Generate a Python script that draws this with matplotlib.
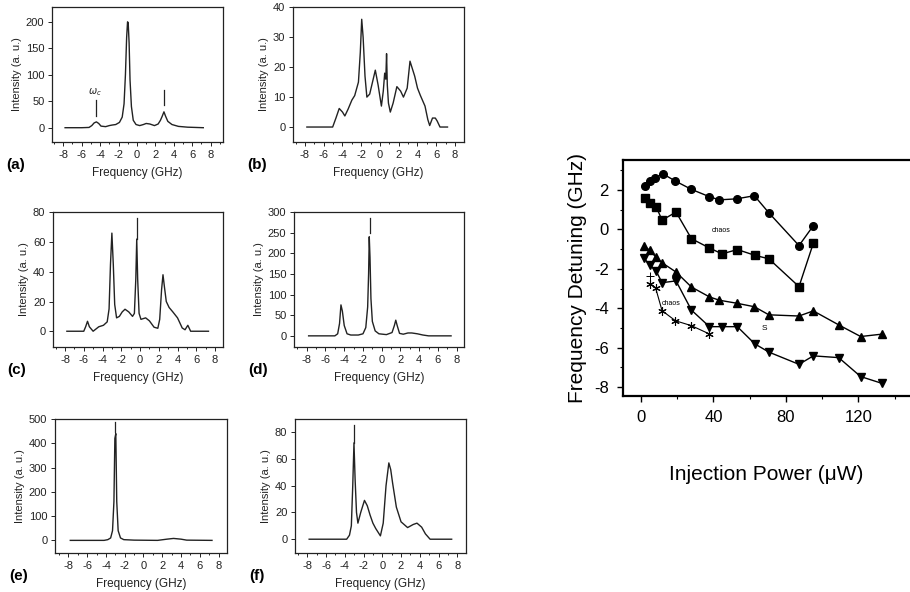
import matplotlib

matplotlib.use("Agg")
import matplotlib.pyplot as plt
from matplotlib.ticker import MultipleLocator

plt.rcParams["font.family"] = ["Liberation Sans", "DejaVu Sans"]
plt.rcParams["axes.unicode_minus"] = False

# ---- optical spectra, panels (a)-(f): frequency (GHz) / intensity (a. u.)
freq_a = [-7.8, -6.0, -5.2, -4.9, -4.65, -4.4, -4.15, -3.9, -3.4, -3.0, -2.7, -2.3, -1.9,
          -1.6, -1.4, -1.25, -1.12, -1.02, -0.95, -0.85, -0.75, -0.6, -0.4, -0.1, 0.3, 0.7,
          1.0, 1.4, 1.9, 2.3, 2.55, 2.75, 2.93, 3.1, 3.35, 3.8, 4.5, 5.5, 7.2]
int_a = [0, 0, 0.5, 4, 9, 11, 8, 3, 2, 4, 5, 6, 10, 20, 45, 100, 170, 200, 198, 160, 90, 40,
         14, 6, 4, 6, 8, 7, 4, 7, 14, 22, 30, 22, 12, 6, 2.5, 1, 0]

freq_b = [-7.8, -5.05, -4.7, -4.35, -4.0, -3.75, -3.4, -3.0, -2.7, -2.3, -2.1, -1.95, -1.8,
          -1.6, -1.4, -1.1, -0.8, -0.5, -0.2, 0.15, 0.35, 0.5, 0.62, 0.7, 0.78, 0.9, 1.1, 1.4,
          1.8, 2.2, 2.5, 2.9, 3.2, 3.7, 4.0, 4.3, 4.8, 5.1, 5.3, 5.6, 5.9, 6.1, 6.4, 7.2]
int_b = [0, 0, 3, 6.2, 5, 3.7, 6, 9, 10.5, 15, 25, 36, 30, 17, 10, 11, 15, 19, 14, 7, 12, 18,
         16, 24.5, 14, 8, 5, 8, 13.5, 12, 10, 13, 22, 17, 13, 10.6, 7, 2.5, 0.5, 3, 3, 2, 0, 0]

freq_c = [-7.8, -6.0, -5.8, -5.6, -5.4, -5.0, -4.4, -3.9, -3.5, -3.3, -3.15, -3.0, -2.85, -2.7,
          -2.5, -2.2, -1.9, -1.6, -1.2, -0.8, -0.6, -0.45, -0.35, -0.25, -0.1, 0.1, 0.6, 1.0,
          1.5, 1.9, 2.1, 2.3, 2.45, 2.6, 2.8, 3.1, 3.5, 4.0, 4.5, 4.8, 5.1, 5.4, 7.3]
int_c = [0, 0, 3, 6.7, 3, 0, 3, 4, 6.3, 15, 45, 66, 45, 18, 9, 10, 13, 14.8, 13, 10, 12, 35,
         62, 35, 12, 8, 9, 7, 2.7, 2, 8, 28, 38, 30, 20, 16, 13, 9, 2.2, 1, 4, 0, 0]

freq_d = [-7.8, -5.0, -4.7, -4.5, -4.35, -4.2, -4.0, -3.7, -3.3, -2.5, -2.0, -1.7, -1.5, -1.4,
          -1.33, -1.25, -1.15, -1.0, -0.7, -0.3, 0.5, 1.1, 1.35, 1.5, 1.65, 1.9, 2.3, 2.8, 3.2,
          3.8, 4.4, 5.0, 7.4]
int_d = [0, 0, 5, 30, 75, 60, 25, 5, 2, 2, 5, 20, 70, 150, 240, 190, 90, 35, 12, 5, 3, 8, 25,
         38, 25, 6, 4, 7, 7, 5, 2, 0, 0]

freq_e = [-7.8, -4.2, -3.8, -3.5, -3.3, -3.15, -3.05, -2.95, -2.85, -2.7, -2.45, -2.1, -1.0,
          1.5, 2.5, 3.2, 4.0, 4.6, 7.3]
int_e = [0, 0, 3, 10, 40, 160, 420, 440, 160, 40, 10, 3, 1, 0, 5, 8, 5, 1, 0]

freq_f = [-7.8, -3.8, -3.5, -3.3, -3.15, -3.02, -2.9, -2.75, -2.6, -2.3, -1.9, -1.6, -1.3,
          -1.0, -0.7, -0.2, 0.1, 0.4, 0.7, 0.9, 1.1, 1.5, 2.0, 2.7, 3.3, 3.7, 4.2, 4.6, 5.1, 7.4]
int_f = [0, 0, 3, 10, 40, 72, 45, 20, 12, 20, 29, 25, 18, 12, 8, 2.5, 12, 40, 57, 52, 42, 24,
         13, 8.7, 11, 12, 9, 4, 0, 0]

# vertical marker lines above peaks: (freq, y from, y to)
marks_a = [(-4.4, 22, 52), (2.93, 42, 71)]
marks_c = [(-0.35, 62, 76)]
marks_d = [(-1.3, 250, 285)]
marks_e = [(-3.0, 445, 488)]
marks_f = [(-3.0, 72, 85)]

# ---- detuning map: injection power (uW) / frequency detuning (GHz)
p_circle = [2.4, 4.8, 7.9, 12.1, 19.1, 27.9, 37.8, 43.3, 52.8, 62.6, 70.5, 87.2, 95.1]
d_circle = [2.2, 2.45, 2.62, 2.82, 2.45, 2.03, 1.66, 1.5, 1.55, 1.71, 0.85, -0.82, 0.19]
p_square = [2.4, 5.1, 8.4, 11.7, 19.4, 27.9, 37.8, 44.8, 53.2, 62.8, 70.6, 87.2, 95.1]
d_square = [1.61, 1.33, 1.16, 0.47, 0.88, -0.47, -0.94, -1.24, -1.02, -1.31, -1.49, -2.9, -0.7]
p_up = [1.8, 4.8, 8.4, 11.7, 19.4, 27.9, 37.8, 43.3, 52.8, 62.6, 70.6, 87.2, 95.1, 109.1,
        121.2, 132.8]
d_up = [-0.85, -1.05, -1.41, -1.69, -2.16, -2.92, -3.42, -3.59, -3.74, -3.92, -4.33, -4.39,
        -4.13, -4.84, -5.43, -5.31]
p_down = [1.8, 4.8, 8.4, 11.7, 19.4, 27.9, 37.8, 44.8, 53.2, 62.8, 70.6, 87.2, 95.1, 109.1,
          121.2, 132.8]
d_down = [-1.47, -1.78, -2.1, -2.7, -2.61, -4.09, -4.93, -4.93, -4.93, -5.8, -6.22, -6.84,
          -6.41, -6.5, -7.46, -7.8]
p_star = [5.1, 8.1, 11.7, 19.1, 27.9, 37.8]
d_star = [-2.75, -2.95, -4.12, -4.63, -4.88, -5.3]
p_plus = [4.8]
d_plus = [-2.36]

W, H = 910, 592
fig = plt.figure(figsize=(W / 100, H / 100), dpi=100)


def px_axes(left, top, right, bottom):
    return fig.add_axes([left / W, 1 - bottom / H, (right - left) / W, (bottom - top) / H])


panels = [
    ("(a)", (52, 7, 223, 142), freq_a, int_a, marks_a, (-9.22, 9.34), (-27, 228), 50),
    ("(b)", (293, 7, 464, 142), freq_b, int_b, [], (-9.28, 8.96), (-5, 40.1), 10),
    ("(c)", (53, 212, 223, 347), freq_c, int_c, marks_c, (-9.28, 8.85), (-10.6, 80.2), 20),
    ("(d)", (294, 212, 464, 347), freq_d, int_d, marks_d, (-9.36, 8.78), (-27, 300), 50),
    ("(e)", (55, 419, 227, 553), freq_e, int_e, marks_e, (-9.43, 8.9), (-52, 500), 100),
    ("(f)", (295, 419, 466, 553), freq_f, int_f, marks_f, (-9.31, 8.93), (-10.3, 89.8), 20),
]

for tag, box, fx, iy, marks, xlim, ylim, ystep in panels:
    ax = px_axes(*box)
    ax.plot(fx, iy, color="#222222", lw=1.0)
    for mx, y0, y1 in marks:
        ax.plot([mx, mx], [y0, y1], color="#222222", lw=0.9)
    ax.set_xlim(*xlim)
    ax.set_ylim(*ylim)
    ax.xaxis.set_major_locator(MultipleLocator(2))
    ax.xaxis.set_minor_locator(MultipleLocator(1))
    ax.yaxis.set_major_locator(MultipleLocator(ystep))
    ax.tick_params(which="major", direction="out", length=3, width=0.7, labelsize=8, pad=2.5,
                   colors="#222222")
    ax.tick_params(which="minor", direction="out", length=1.5, width=0.6)
    for s in ax.spines.values():
        s.set_linewidth(0.9)
        s.set_color("#222222")
    ax.set_xlabel("Frequency (GHz)", fontsize=8.5, labelpad=5, color="#222222")
    ax.set_ylabel("Intensity (a. u.)", fontsize=8, labelpad=3, color="#222222")
    left, top, right, bottom = box
    fig.text((left - 46) / W, 1 - (bottom + 23) / H, tag, fontsize=11, fontweight="bold",
             va="center", ha="left")

# omega_c label in panel (a)
fig.axes[0].text(-4.55, 56, r"$\omega_c$", fontsize=7, ha="center", va="bottom",
                 color="#222222")

# ---- right panel
ax = fig.add_axes([622.7 / W, 1 - 395.7 / H, 1 - 622.7 / W, (395.7 - 160) / H])
kw = dict(color="black", lw=1.0, markersize=5.5)
ax.plot(p_circle, d_circle, marker="o", **kw)
ax.plot(p_square, d_square, marker="s", **kw)
ax.plot(p_up, d_up, marker="^", **kw)
ax.plot(p_down, d_down, marker="v", **kw)
ax.plot(p_star, d_star, marker=(6, 2, 0), color="black", lw=0.8, markersize=6, mew=0.8)
ax.plot(p_plus, d_plus, marker="+", ls="none", color="black", markersize=6, mew=0.7)
ax.text(44.5, -0.05, "chaos", fontsize=5, ha="center", va="center")
ax.text(16.5, -3.74, "chaos", fontsize=5, ha="center", va="center")
ax.text(68, -5.0, "S", fontsize=6, ha="center", va="center")
ax.set_xlim(-10, 148.4)
ax.set_ylim(-8.43, 3.52)
ax.xaxis.set_major_locator(MultipleLocator(40))
ax.xaxis.set_minor_locator(MultipleLocator(20))
ax.yaxis.set_major_locator(MultipleLocator(2))
ax.yaxis.set_minor_locator(MultipleLocator(1))
ax.tick_params(which="major", direction="out", length=4, width=1.0, labelsize=12, pad=6)
ax.tick_params(which="minor", direction="out", length=2.5, width=0.8)
for s in ax.spines.values():
    s.set_linewidth(1.6)
ax.spines["right"].set_visible(False)
ax.set_xlabel("Injection Power (μW)", fontsize=15, labelpad=29)
ax.set_ylabel("Frequency Detuning (GHz)", fontsize=15, labelpad=5)

fig.savefig("out.png", dpi=100)
